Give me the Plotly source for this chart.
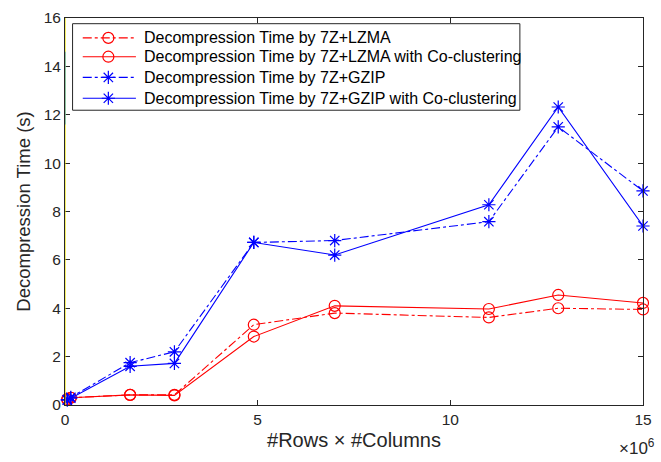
import plotly.graph_objects as go

# x values in units of 1e6 (#Rows x #Columns)
x_vals = [0.06, 0.15, 1.69, 2.84, 4.9, 7.0, 11.0, 12.8, 15.0]

lzma = [0.25, 0.3, 0.42, 0.42, 3.32, 3.8, 3.62, 4.0, 3.95]
lzma_cc = [0.22, 0.3, 0.42, 0.4, 2.83, 4.1, 3.97, 4.55, 4.22]
gzip = [0.2, 0.32, 1.75, 2.2, 6.72, 6.8, 7.58, 11.5, 8.85]
gzip_cc = [0.22, 0.28, 1.6, 1.72, 6.72, 6.2, 8.28, 12.32, 7.4]

names = [
    "Decompression Time by 7Z+LZMA",
    "Decompression Time by 7Z+LZMA with Co-clustering",
    "Decompression Time by 7Z+GZIP",
    "Decompression Time by 7Z+GZIP with Co-clustering",
]

x_ticks = [0, 5, 10, 15]
y_ticks = [0, 2, 4, 6, 8, 10, 12, 14, 16]

RED = "#ff0000"
BLUE = "#0000ff"
AX = "#262626"
FONT = "Liberation Sans, Arial, sans-serif"

styles = [
    (RED, "dashdot", "circle-open"),
    (RED, "solid", "circle-open"),
    (BLUE, "dashdot", "asterisk-open"),
    (BLUE, "solid", "asterisk-open"),
]
data = [lzma, lzma_cc, gzip, gzip_cc]

fig = go.Figure()
for ys, nm, (col, dash, sym) in zip(data, names, styles):
    fig.add_trace(go.Scatter(
        x=x_vals, y=ys, name=nm, mode="lines+markers",
        line=dict(color=col, width=1.1, dash=dash),
        marker=dict(symbol=sym, size=11, color=col, line=dict(color=col, width=1.2)),
        cliponaxis=False, showlegend=False,
    ))

# odd colored left spine as seen in the reference
shapes = [
    dict(type="line", xref="x", yref="y", x0=0, x1=0, y0=0, y1=16,
         line=dict(color="#f2e600", width=1.2), layer="above"),
    dict(type="line", xref="x", yref="y", x0=0, x1=0, y0=11.6, y1=14.6,
         line=dict(color="#4aa8c8", width=1.2), layer="above"),
]

# ---- MATLAB-style legend box (paper coords of the plot area) ----
LX0, LX1, LY0, LY1 = 0.0131, 0.787, 0.7617, 0.9853
row_y = [0.9486, 0.90, 0.8465, 0.7926]
line_x0, line_x1, mark_x, text_x = 0.0307, 0.1227, 0.075, 0.1329

shapes.append(dict(type="rect", xref="paper", yref="paper",
                   x0=LX0, x1=LX1, y0=LY0, y1=LY1,
                   line=dict(color=AX, width=1), fillcolor="white", layer="below"))
annotations = []
for ry, nm, (col, dash, sym) in zip(row_y, names, styles):
    shapes.append(dict(type="line", xref="paper", yref="paper",
                       x0=line_x0, x1=line_x1, y0=ry, y1=ry,
                       line=dict(color=col, width=1.1, dash=dash), layer="above"))
    fig.add_trace(go.Scatter(
        x=[mark_x], y=[ry], xaxis="x2", yaxis="y2", mode="markers",
        marker=dict(symbol=sym, size=11, color=col, line=dict(color=col, width=1.2)),
        showlegend=False, hoverinfo="skip", cliponaxis=False,
    ))
    annotations.append(dict(text=nm, xref="paper", yref="paper", x=text_x, y=ry,
                            xanchor="left", yanchor="middle", showarrow=False,
                            font=dict(family=FONT, size=16, color="black")))

annotations.append(dict(text="×10<sup>6</sup>", xref="paper", yref="paper",
                        x=1.025, y=-0.075, xanchor="right", yanchor="top",
                        showarrow=False, font=dict(family=FONT, size=17, color=AX)))

fig.update_layout(
    width=661, height=462,
    margin=dict(l=65, r=9, t=16, b=57),
    paper_bgcolor="white", plot_bgcolor="white",
    font=dict(family=FONT, size=15, color=AX),
    showlegend=False,
    shapes=shapes,
    annotations=annotations,
    xaxis=dict(
        range=[0, 15], tickvals=x_ticks, ticktext=[str(t) for t in x_ticks],
        showgrid=False, zeroline=False, showline=True, linecolor=AX, linewidth=1,
        mirror="allticks", ticks="inside", ticklen=5, tickcolor=AX,
        title=dict(text="#Rows × #Columns", font=dict(family=FONT, size=20, color=AX), standoff=6),
        tickfont=dict(family=FONT, size=15.5, color=AX),
    ),
    yaxis=dict(
        range=[0, 16], tickvals=y_ticks,
        showgrid=False, zeroline=False, showline=True, linecolor=AX, linewidth=1,
        mirror="allticks", ticks="inside", ticklen=5, tickcolor=AX,
        title=dict(text="Decompression Time (s)", font=dict(family=FONT, size=18.5, color=AX), standoff=8),
        tickfont=dict(family=FONT, size=15.5, color=AX),
    ),
    xaxis2=dict(overlaying="x", anchor="y2", range=[0, 1], visible=False, fixedrange=True),
    yaxis2=dict(overlaying="y", anchor="x2", range=[0, 1], visible=False, fixedrange=True),
)

fig.write_html("out.html")
